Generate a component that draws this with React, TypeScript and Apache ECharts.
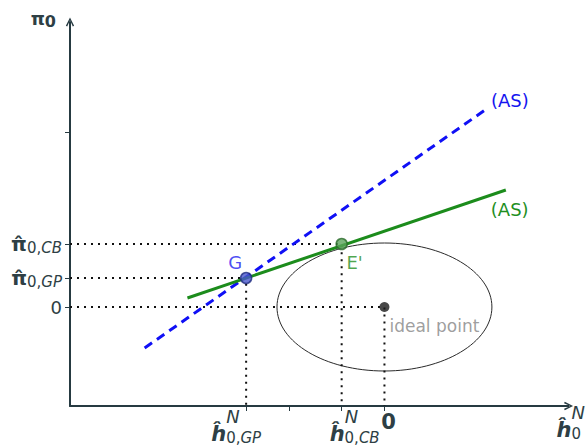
import React, { useEffect, useRef } from 'react';
import * as echarts from 'echarts';

// Tick positions (data units) and their labels
const xTickValues = [-13.9, -9.6, -4.3, 0];
const xLabelValues = [0, -13.9, -4.3];
const xLabelKeys = ['zero', 'GP', 'CB'];
const yTickValues = [0, 2.9, 6.3, 17.5];
const yLabelValues = [0, 2.9, 6.3];
const yLabelKeys = ['zero', 'GP', 'CB'];

// Points
const pointG = [-13.9, 2.9];
const pointE = [-4.3, 6.3];
const idealPoint = [0, 0];

// Lines (AS)
const asBlue = [[-24.1, -4.1], [10.4, 19.9]];
const asGreen = [[-19.8, 0.9], [12.2, 11.7]];

// Loss ellipse: center x, center y, radius x, radius y
const lossEllipse = [0, 0, 10.8, 6.4];

const X_MIN = -31.6;
const X_MAX = 18.5;
const Y_MIN = -9.9;
const Y_MAX = 28.5;

const AXIS_COLOR = '#263a41';
const LABEL_COLOR = '#2e3f45';
const FONT = 'DejaVu Sans';

const near = (a: number, b: number) => Math.abs(a - b) < 1e-6;

const chevron = 'path://M0,10 L5,0 L10,10 L8.4,10.9 L5,3.2 L1.6,10.9 Z';

export default function App() {
  const ref = useRef<HTMLDivElement>(null);

  useEffect(() => {
    if (!ref.current) return;
    const chart = echarts.init(ref.current, undefined, { renderer: 'svg' });

    const guide = (p: number[]) => [
      [X_MIN, p[1]],
      [p[0], p[1]],
      [p[0], Y_MIN],
    ];

    const guideSeries = [pointG, pointE, idealPoint].map((p) => ({
      type: 'line',
      data: guide(p),
      symbol: 'none',
      silent: true,
      z: 2,
      lineStyle: { color: '#111', width: 2, type: [2, 5], cap: 'butt' },
    }));

    const xRich = {
      h: { fontSize: 21, fontWeight: 'bold', fontStyle: 'italic', lineHeight: 22, align: 'left', color: LABEL_COLOR, fontFamily: FONT },
      hs: { width: 15, lineHeight: 13, align: 'left' },
      sup: { fontSize: 18, fontStyle: 'italic', lineHeight: 13, align: 'left', color: LABEL_COLOR, fontFamily: FONT },
      sb: { fontSize: 15, lineHeight: 14, verticalAlign: 'bottom', align: 'left', color: LABEL_COLOR, fontFamily: FONT },
      si: { fontSize: 15, fontStyle: 'italic', lineHeight: 14, verticalAlign: 'bottom', align: 'left', color: LABEL_COLOR, fontFamily: FONT },
      spR: { width: 20, lineHeight: 10, align: 'left' },
      spL: { width: 26, lineHeight: 10, align: 'left' },
      zs: { width: 8, lineHeight: 10, align: 'left' },
      zb: { fontSize: 21, fontWeight: 'bold', lineHeight: 24, align: 'left', color: LABEL_COLOR, fontFamily: FONT },
    };

    const yRich = {
      z: { fontSize: 18, color: LABEL_COLOR, fontFamily: FONT },
      pi: { fontSize: 20, fontWeight: 'bold', lineHeight: 22, color: LABEL_COLOR, fontFamily: FONT },
      sb: { fontSize: 15, lineHeight: 14, verticalAlign: 'bottom', color: LABEL_COLOR, fontFamily: FONT },
      si: { fontSize: 15, fontStyle: 'italic', lineHeight: 14, verticalAlign: 'bottom', color: LABEL_COLOR, fontFamily: FONT },
    };

    chart.setOption({
      animation: false,
      backgroundColor: '#ffffff',
      textStyle: { fontFamily: FONT },
      grid: { left: 70, right: 17, top: 22, bottom: 40, containLabel: false },
      xAxis: {
        type: 'value',
        min: X_MIN,
        max: X_MAX,
        splitLine: { show: false },
        axisLine: {
          onZero: false,
          lineStyle: { color: AXIS_COLOR, width: 2 },
          symbol: ['none', chevron],
          symbolSize: [10, 9],
        },
        axisTick: { show: true, customValues: xTickValues, length: 5, lineStyle: { color: AXIS_COLOR, width: 1 } },
        axisLabel: {
          customValues: xLabelValues,
          margin: 4,
          hideOverlap: false,
          formatter: (v: number) => {
            const i = xLabelValues.findIndex((x) => near(x, v));
            const key = xLabelKeys[i];
            if (key === 'zero') return '{zs|}{zb|0}';
            if (key === 'GP') return '{hs|}{sup|N}\n{h|ĥ}{sb|0,}{si|GP}{spR|}';
            return '{spL|}{hs|}{sup|N}\n{spL|}{h|ĥ}{sb|0,}{si|CB}';
          },
          rich: xRich,
        },
        name: '{hs|}{sup|N}\n{h|ĥ}{sb|0}',
        nameLocation: 'end',
        nameGap: -12,
        nameTextStyle: { align: 'left', verticalAlign: 'top', rich: xRich },
      },
      yAxis: {
        type: 'value',
        min: Y_MIN,
        max: Y_MAX,
        splitLine: { show: false },
        axisLine: {
          onZero: false,
          lineStyle: { color: AXIS_COLOR, width: 2 },
          symbol: ['none', chevron],
          symbolSize: [10, 9],
        },
        axisTick: { show: true, customValues: yTickValues, length: 5, lineStyle: { color: AXIS_COLOR, width: 1 } },
        axisLabel: {
          customValues: yLabelValues,
          margin: 8,
          hideOverlap: false,
          formatter: (v: number) => {
            const i = yLabelValues.findIndex((y) => near(y, v));
            const key = yLabelKeys[i];
            if (key === 'zero') return '{z|0}';
            return `{pi|π̂}{sb|0,}{si|${key}}`;
          },
          rich: yRich,
        },
        name: '{p|π}{s|0}',
        nameLocation: 'end',
        nameGap: 4,
        nameTextStyle: {
          align: 'right',
          verticalAlign: 'middle',
          padding: [0, 14, 0, 0],
          rich: {
            p: { fontSize: 18, fontWeight: 'bold', lineHeight: 22, color: LABEL_COLOR, fontFamily: FONT },
            s: { fontSize: 16, fontWeight: 'bold', lineHeight: 14, verticalAlign: 'bottom', color: LABEL_COLOR, fontFamily: FONT },
          },
        },
      },
      series: [
        {
          type: 'custom',
          data: [lossEllipse],
          encode: { x: 0, y: 1 },
          silent: true,
          z: 1,
          renderItem: (_params: any, api: any) => {
            const c = api.coord([api.value(0), api.value(1)]);
            const s = api.size([api.value(2), api.value(3)]);
            return {
              type: 'ellipse',
              shape: { cx: c[0], cy: c[1], rx: s[0], ry: s[1] },
              style: { fill: 'none', stroke: '#2a2a2a', lineWidth: 1 },
            };
          },
        },
        ...guideSeries,
        {
          type: 'line',
          data: asBlue,
          symbol: 'none',
          silent: true,
          z: 3,
          lineStyle: { color: '#1010f5', width: 3, type: [9, 6] },
          endLabel: {
            show: true,
            formatter: '(AS)',
            distance: 3,
            offset: [0, -8],
            color: '#1515f0',
            fontSize: 18,
            fontFamily: FONT,
          },
        },
        {
          type: 'line',
          data: asGreen,
          symbol: 'none',
          silent: true,
          z: 4,
          lineStyle: { color: '#1c8c1c', width: 3 },
          endLabel: {
            show: true,
            formatter: '(AS)',
            distance: 3,
            offset: [-18, 19],
            color: '#1f8f1f',
            fontSize: 18,
            fontFamily: FONT,
          },
        },
        {
          type: 'scatter',
          z: 5,
          symbolSize: 11,
          silent: true,
          data: [
            {
              value: pointG,
              itemStyle: { color: '#4a58cc', borderColor: '#1f2c80', borderWidth: 1.5 },
              label: { show: true, formatter: 'G', position: 'inside', offset: [-11, -16], color: '#2020f0', fontSize: 18, fontFamily: FONT },
            },
            {
              value: pointE,
              itemStyle: { color: '#5aa45a', borderColor: '#2a6a2a', borderWidth: 1.5 },
              label: { show: true, formatter: "E'", position: 'inside', offset: [13, 18], color: '#1f8f1f', fontSize: 18, fontFamily: FONT },
            },
            {
              value: idealPoint,
              symbolSize: 10,
              itemStyle: { color: '#1a1a1a' },
              label: { show: true, formatter: 'ideal point', position: 'right', distance: 0, offset: [0, 19], color: '#858585', fontSize: 17, fontFamily: FONT },
            },
          ],
        },
      ],
    });

    return () => chart.dispose();
  }, []);

  return <div ref={ref} style={{ position: 'fixed', left: 0, top: 0, width: 588, height: 446 }} />;
}
